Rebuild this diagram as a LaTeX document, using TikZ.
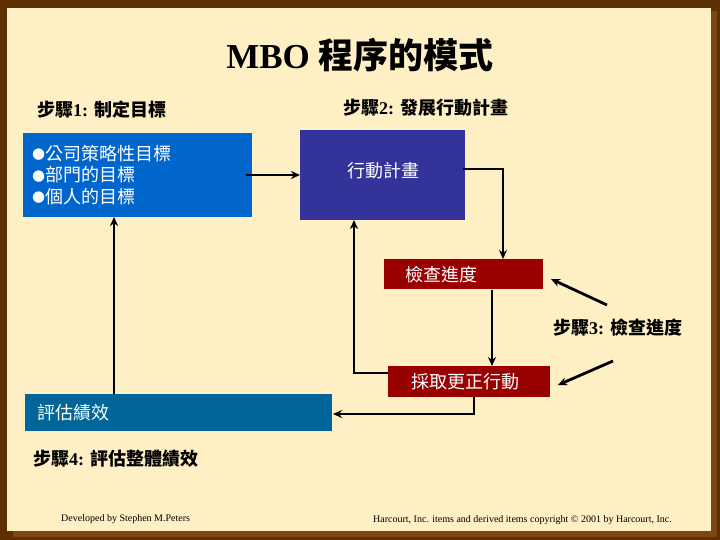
\documentclass[tikz,border=0pt]{standalone}
\usepackage{fontspec}
\setmainfont{Liberation Serif}
\newfontfamily\cjk{Noto Sans CJK TC}
\newfontfamily\dejavu{DejaVu Sans}
\usetikzlibrary{arrows.meta}
\definecolor{darkbrown}{HTML}{5E2F00}
\definecolor{litebrown}{HTML}{7C4812}
\definecolor{cream}{HTML}{FFEFC4}
\definecolor{boxblue}{HTML}{0066CC}
\definecolor{boxindigo}{HTML}{333399}
\definecolor{boxred}{HTML}{990000}
\definecolor{boxteal}{HTML}{006699}
\tikzset{
  wtext/.style={text=white, font=\cjk\fontsize{18}{18}\selectfont, inner sep=0pt},
  steplabel/.style={font=\fontsize{18}{18}\selectfont\bfseries, inner sep=0pt, anchor=west},
  conn/.style={line width=2.8pt, -{Stealth[length=9pt,width=8pt]}},
  foot/.style={font=\fontsize{10}{10}\selectfont, inner sep=0pt, anchor=west}
}
\newcommand{\mybullet}{\raisebox{1.5pt}{\dejavu\fontsize{15}{15}\selectfont ●}}
\begin{document}
\begin{tikzpicture}[x=1pt,y=-1pt]
\useasboundingbox (0,0) rectangle (720,540);
% frame
\fill[darkbrown] (0,0) rectangle (720,540);
\fill[litebrown] (13,11) rectangle (717,537);
\fill[cream] (7,8) rectangle (711,531);
% title
\node[inner sep=0pt] (title) at (360,55) {\fontsize{35}{35}\selectfont\bfseries MBO {\cjk 程序的模式}};
% step labels
\node[steplabel] (s1) at (37,110) {{\cjk 步驟}1: {\cjk 制定目標}};
\node[steplabel] (s2) at (343,108) {{\cjk 步驟}2: {\cjk 發展行動計畫}};
\node[steplabel] (s3) at (553,328) {{\cjk 步驟}3: {\cjk 檢查進度}};
\node[steplabel] (s4) at (33,459) {{\cjk 步驟}4: {\cjk 評估整體績效}};
% boxes
\fill[boxblue] (23,133) rectangle (252,217);
\node[wtext, anchor=west, align=left] (b1t) at (32,175) {%
  \mybullet 公司策略性目標\\[3.5pt]
  \mybullet 部門的目標\\[3.5pt]
  \mybullet 個人的目標};
\fill[boxindigo] (300,130) rectangle (465,220);
\node[wtext] (b2) at (383,171) {行動計畫};
\fill[boxred] (384,259) rectangle (543,289);
\node[wtext, anchor=west] (b3) at (405,275) {檢查進度};
\fill[boxred] (388,366) rectangle (550,397);
\node[wtext] (b4) at (465,382) {採取更正行動};
\fill[boxteal] (25,394) rectangle (332,431);
\node[wtext, anchor=west] (b5) at (37,413) {評估績效};
% connector anchor points
\coordinate (b1r) at (246,175);
\coordinate (b2l) at (300,175);
\coordinate (b2r) at (463,169);
\coordinate (b3t) at (503,259);
\coordinate (b3b) at (492,290);
\coordinate (b4t) at (492,366);
\coordinate (b4l) at (388,373);
\coordinate (b2b) at (354,220);
\coordinate (b4b) at (474,397);
\coordinate (b5r) at (333,414);
\coordinate (b5t) at (114,394);
\coordinate (b1b) at (114,217);
\coordinate (s3a) at (607,305);
\coordinate (b3r) at (551,279);
\coordinate (s3b) at (613,361);
\coordinate (b4r) at (558,385);
% connectors
\draw[conn] (b1r) -- (b2l);
\draw[conn] (b2r) -| (b3t);
\draw[conn] (b3b) -- (b4t);
\draw[conn] (b4l) -| (b2b);
\draw[conn] (b4b) |- (b5r);
\draw[conn] (b5t) -- (b1b);
\draw[conn] (s3a) -- (b3r);
\draw[conn] (s3b) -- (b4r);
% footers
\node[foot] (f1) at (61,519) {Developed by Stephen M.Peters};
\node[foot] (f2) at (373,520) {Harcourt, Inc. items and derived items copyright © 2001 by Harcourt, Inc.};
\end{tikzpicture}
\end{document}
